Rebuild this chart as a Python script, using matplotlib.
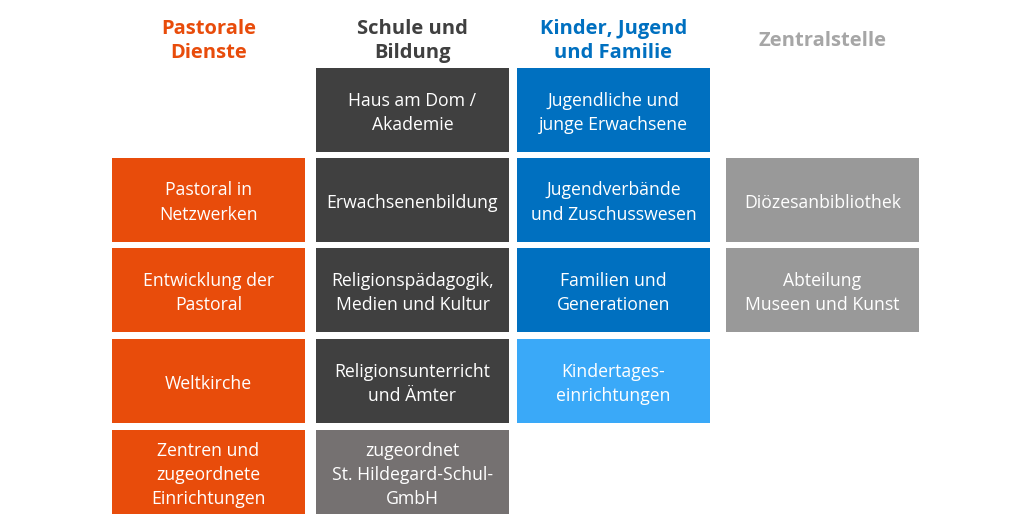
import matplotlib
matplotlib.use("Agg")
import matplotlib.pyplot as plt
from matplotlib.patches import Rectangle

plt.rcParams['font.family'] = ['Open Sans', 'DejaVu Sans']

# column headers and their colours
headers = ["Pastorale\nDienste", "Schule und\nBildung", "Kinder, Jugend\nund Familie", "Zentralstelle"]
header_colors = ["#E84C0B", "#404040", "#0070C0", "#A6A6A6"]

# boxes per column: (row index, label)
pastoral = [(1, "Pastoral in\nNetzwerken"), (2, "Entwicklung der\nPastoral"),
            (3, "Weltkirche"), (4, "Zentren und\nzugeordnete\nEinrichtungen")]
schule = [(0, "Haus am Dom /\nAkademie"), (1, "Erwachsenenbildung"),
          (2, "Religionspädagogik,\nMedien und Kultur"),
          (3, "Religionsunterricht\nund Ämter"),
          (4, "zugeordnet\nSt. Hildegard-Schul-\nGmbH")]
kinder = [(0, "Jugendliche und\njunge Erwachsene"), (1, "Jugendverbände\nund Zuschusswesen"),
          (2, "Familien und\nGenerationen"), (3, "Kindertages-\neinrichtungen")]
zentral = [(1, "Diözesanbibliothek"), (2, "Abteilung\nMuseen und Kunst")]

columns = [pastoral, schule, kinder, zentral]
box_colors = [
    ["#E84C0B"] * 4,
    ["#404040"] * 4 + ["#757171"],
    ["#0070C0"] * 3 + ["#3AA9F8"],
    ["#999999"] * 2,
]

# layout (pixels)
col_left = [112, 316, 517, 726]
row_top = [68, 157.5, 248, 339, 430]
box_w, box_h = 193, 84

fig = plt.figure(figsize=(10.24, 5.28), dpi=100)
ax = fig.add_axes([0, 0, 1, 1])
ax.set_xlim(0, 1024)
ax.set_ylim(528, 0)
ax.axis('off')

for ci, col in enumerate(columns):
    x0 = col_left[ci]
    cx = x0 + box_w / 2
    ax.text(cx, 41, headers[ci], ha='center', va='center', fontsize=14.5,
            fontweight='bold', color=header_colors[ci], linespacing=1.3)
    for (row, label), color in zip(col, box_colors[ci]):
        y0 = row_top[row]
        ax.add_patch(Rectangle((x0, y0), box_w, box_h, facecolor=color, edgecolor='none'))
        ax.text(cx, y0 + box_h / 2 + 3, label, ha='center', va='center', fontsize=12.7,
                color='white', linespacing=1.45)

fig.savefig("out.png", dpi=100)
